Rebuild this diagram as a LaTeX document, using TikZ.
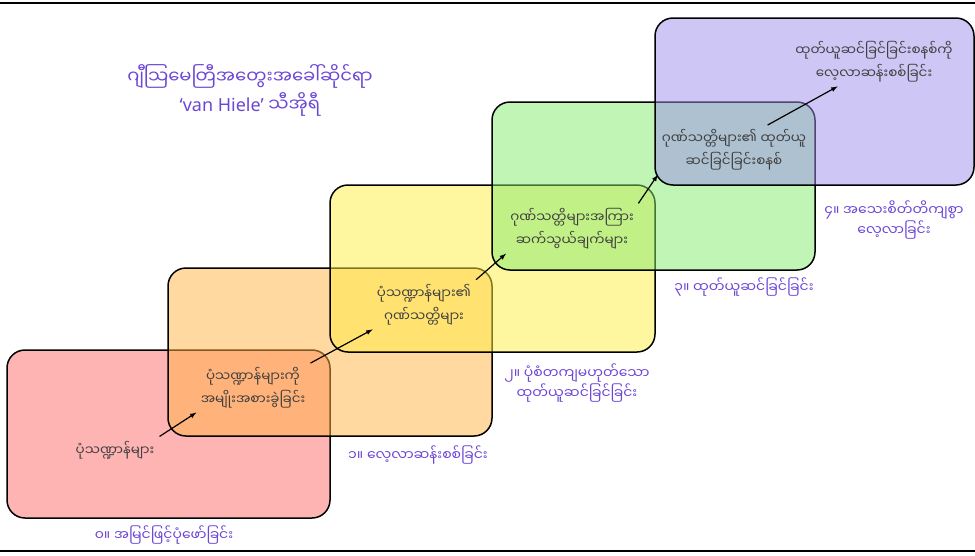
\documentclass[tikz,border=0pt]{standalone}
\usepackage{fontspec}
\newfontfamily\mmfont[Script=Myanmar]{Noto Sans Myanmar UI}
\newfontfamily\latfont{Noto Sans}
\definecolor{lvlpurple}{RGB}{108,70,214}
\definecolor{txtgrey}{RGB}{64,64,64}
\definecolor{redbox}{RGB}{255,105,105}
\definecolor{orangebox}{RGB}{255,179,65}
\definecolor{yellowbox}{RGB}{255,237,65}
\definecolor{greenbox}{RGB}{129,235,109}
\definecolor{purplebox}{RGB}{157,141,235}

\begin{document}
\begin{tikzpicture}[x=1pt, y=-1pt,
	box/.style={draw=black, line width=1.5pt, rounded corners=18pt, fill opacity=0.5},
	txt/.style={text=txtgrey, align=center, font=\mmfont\fontsize{13.5}{23}\selectfont},
	lvl/.style={text=lvlpurple, align=center, font=\mmfont\fontsize{14}{20}\selectfont}
]
	\useasboundingbox (0,0) rectangle (975,555);
	\draw[line width=1.2pt] (0,3) -- (975,3);
	\draw[line width=1.2pt] (0,551) -- (975,551);

	\node[lvl, font=\mmfont\fontsize{18}{28}\selectfont] (title) at (250,90)
		{ဂျီသြမေတြီအတွေးအခေါ်ဆိုင်ရာ\\{\latfont ‘van Hiele’} သီအိုရီ};

	\draw[box, fill=redbox] (7,350) rectangle (330,518);
	\draw[box, fill=orangebox] (168,268) rectangle (492,436);
	\draw[box, fill=yellowbox] (330,185) rectangle (655,352);
	\draw[box, fill=greenbox] (492,102) rectangle (815,270);
	\draw[box, fill=purplebox] (655,18) rectangle (974,185);

	\node[txt] (t0) at (115,450) {ပုံသဏ္ဍာန်များ};
	\node[txt] (t1) at (253,388) {ပုံသဏ္ဍာန်များကို\\အမျိုးအစားခွဲခြင်း};
	\node[txt] (t2) at (424,305) {ပုံသဏ္ဍာန်များ၏\\ဂုဏ်သတ္တိများ};
	\node[txt] (t3) at (572,229) {ဂုဏ်သတ္တိများအကြား\\ဆက်သွယ်ချက်များ};
	\node[txt] (t4) at (734,150) {ဂုဏ်သတ္တိများ၏ ထုတ်ယူ\\ဆင်ခြင်ခြင်းစနစ်};
	\node[txt] (t5) at (874,62) {ထုတ်ယူဆင်ခြင်ခြင်းစနစ်ကို\\လေ့လာဆန်းစစ်ခြင်း};

	\foreach \a/\b in {t0.north east/t1.south west, t1.north east/t2.south west,
			t2.north east/t3.south west, t3.north east/t4.south west, t4.37/t5.214}
		\draw[-latex, line width=1.2pt, shorten <=2pt, shorten >=1pt] (\a) -- (\b);

	\node[lvl] (l0) at (164,535) {၀။ အမြင်ဖြင့်ပုံဖော်ခြင်း};
	\node[lvl] (l1) at (418,455) {၁။ လေ့လာဆန်းစစ်ခြင်း};
	\node[lvl] (l2) at (577,383) {၂။ ပုံစံတကျမဟုတ်သော\\ထုတ်ယူဆင်ခြင်ခြင်း};
	\node[lvl] (l3) at (744,287) {၃။ ထုတ်ယူဆင်ခြင်ခြင်း};
	\node[lvl] (l4) at (894,220) {၄။ အသေးစိတ်တိကျစွာ\\လေ့လာခြင်း};
\end{tikzpicture}
\end{document}
